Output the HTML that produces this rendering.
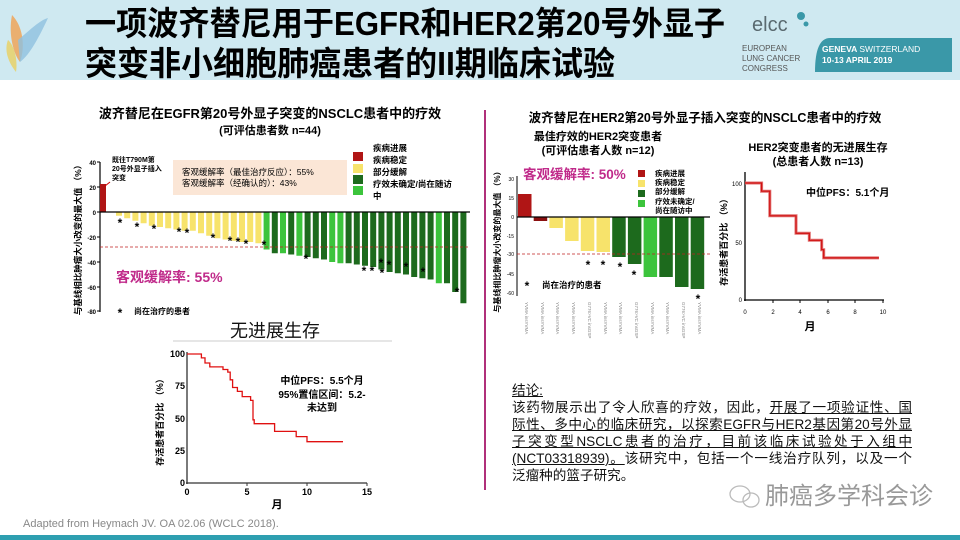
<!DOCTYPE html>
<html><head><meta charset="utf-8"><style>
body{margin:0;width:960px;height:540px;overflow:hidden;background:#fff;font-family:"Liberation Sans","Noto Sans CJK SC",sans-serif;position:relative}
.conc{position:absolute;left:512px;top:382px;width:400px;font-size:13.6px;line-height:17px;color:#111}
.conc div{text-align:justify;text-align-last:justify;white-space:nowrap}
.conc div.l{text-align-last:left}
.conc u{text-decoration:underline}
</style></head><body>
<svg width="960" height="540" viewBox="0 0 960 540" style="position:absolute;left:0;top:0" font-family="Liberation Sans, Noto Sans CJK SC, sans-serif">
<rect x="0" y="0" width="960" height="80" fill="#cfe9f1"/>
<path d="M12,15 C22,25 26,45 20,62 C14,55 8,35 12,15Z" fill="#f0a050" opacity=".8"/>
<path d="M18,40 C30,30 40,20 48,18 C40,35 30,55 20,62Z" fill="#8fc0e0" opacity=".8"/>
<path d="M8,40 C14,45 18,60 16,72 C8,62 4,50 8,40Z" fill="#e8d060" opacity=".8"/>
<text x="85" y="35" font-size="33" font-weight="bold" fill="#000" textLength="640" lengthAdjust="spacingAndGlyphs">一项波齐替尼用于EGFR和HER2第20号外显子</text>
<text x="85" y="75" font-size="33" font-weight="bold" fill="#000" textLength="530" lengthAdjust="spacingAndGlyphs">突变非小细胞肺癌患者的II期临床试验</text>
<text x="752" y="31" font-size="20" fill="#5a6a70">elcc</text>
<circle cx="801" cy="16" r="4" fill="#3a98a8"/><circle cx="806" cy="24" r="2.5" fill="#3a98a8"/>
<text x="742" y="51" font-size="8" fill="#555">EUROPEAN</text>
<text x="742" y="61" font-size="8" fill="#555">LUNG CANCER</text>
<text x="742" y="71" font-size="8" fill="#555">CONGRESS</text>
<path d="M830,38 H952 V72 H815 Q815,38 830,38Z" fill="#3a98a8"/>
<text x="822" y="52" font-size="8.5" fill="#fff" font-weight="bold">GENEVA <tspan font-weight="normal">SWITZERLAND</tspan></text>
<text x="822" y="63" font-size="8.5" fill="#fff" font-weight="bold">10-13 APRIL 2019</text>

<line x1="485" y1="110" x2="485" y2="490" stroke="#b0307a" stroke-width="2"/>

<text x="270" y="118" font-size="13" font-weight="bold" text-anchor="middle">波齐替尼在EGFR第20号外显子突变的NSCLC患者中的疗效</text>
<text x="270" y="134" font-size="11" font-weight="bold" text-anchor="middle">(可评估患者数 n=44)</text>
<text transform="translate(81,238) rotate(-90)" font-size="8.5" font-weight="bold" text-anchor="middle">与基线相比肿瘤大小改变的最大值 （%）</text>
<line x1="100" y1="162" x2="100" y2="312" stroke="#000" stroke-width="1.2"/>
<g font-size="6" text-anchor="end" font-weight="bold"><text x="96" y="165">40</text><text x="96" y="190">20</text><text x="96" y="215">0</text><text x="96" y="240">-20</text><text x="96" y="265">-40</text><text x="96" y="290">-60</text><text x="96" y="314">-80</text></g>
<g stroke="#000"><line x1="97" y1="162" x2="100" y2="162"/><line x1="97" y1="187" x2="100" y2="187"/><line x1="97" y1="212" x2="100" y2="212"/><line x1="97" y1="237" x2="100" y2="237"/><line x1="97" y1="262" x2="100" y2="262"/><line x1="97" y1="287" x2="100" y2="287"/><line x1="97" y1="311" x2="100" y2="311"/></g>
<rect x="100" y="184" width="6" height="28" fill="#b01515"/>
<text x="112" y="162" font-size="7" font-weight="bold">既往T790M第</text>
<text x="112" y="171" font-size="7" font-weight="bold">20号外显子插入</text>
<text x="112" y="180" font-size="7" font-weight="bold">突变</text>
<line x1="110" y1="182" x2="105" y2="186" stroke="#c00"/>
<g fill="#f7e36b">
<rect x="116" y="212" width="6" height="3.75"/><rect x="124.2" y="212" width="6" height="6.25"/><rect x="132.4" y="212" width="6" height="8.75"/><rect x="140.6" y="212" width="6" height="11.25"/><rect x="148.8" y="212" width="6" height="13.75"/><rect x="157" y="212" width="6" height="15"/><rect x="165.2" y="212" width="6" height="16.25"/><rect x="173.4" y="212" width="6" height="17.5"/><rect x="181.6" y="212" width="6" height="18.75"/><rect x="189.8" y="212" width="6" height="18.75"/><rect x="198" y="212" width="6" height="21.25"/><rect x="206.2" y="212" width="6" height="23.75"/><rect x="214.4" y="212" width="6" height="26.25"/><rect x="222.6" y="212" width="6" height="27.5"/><rect x="230.8" y="212" width="6" height="28.75"/><rect x="239" y="212" width="6" height="30"/><rect x="247.2" y="212" width="6" height="30"/><rect x="255.4" y="212" width="6" height="31.25"/>
</g>
<g fill="#1d6a1d">
<rect x="263.6" y="212" width="6" height="37.5" fill="#3cc43c"/><rect x="271.8" y="212" width="6" height="41.25"/><rect x="280" y="212" width="6" height="41.25" fill="#3cc43c"/><rect x="288.2" y="212" width="6" height="42.5"/><rect x="296.4" y="212" width="6" height="43.75" fill="#3cc43c"/><rect x="304.6" y="212" width="6" height="45"/><rect x="312.8" y="212" width="6" height="46.25"/><rect x="321" y="212" width="6" height="47.5"/><rect x="329.2" y="212" width="6" height="50" fill="#3cc43c"/><rect x="337.4" y="212" width="6" height="51.25" fill="#3cc43c"/><rect x="345.6" y="212" width="6" height="51.25"/><rect x="353.8" y="212" width="6" height="52.5"/><rect x="362" y="212" width="6" height="53.75"/><rect x="370.2" y="212" width="6" height="55"/><rect x="378.4" y="212" width="6" height="57.5"/><rect x="386.6" y="212" width="6" height="60"/><rect x="394.8" y="212" width="6" height="61.25"/><rect x="403" y="212" width="6" height="62.5"/><rect x="411.2" y="212" width="6" height="65"/><rect x="419.4" y="212" width="6" height="66.25"/><rect x="427.6" y="212" width="6" height="67.5"/><rect x="435.8" y="212" width="6" height="71.25" fill="#3cc43c"/><rect x="444" y="212" width="6" height="71.25"/><rect x="452.2" y="212" width="6" height="80"/><rect x="460.4" y="212" width="6" height="91.25"/>
</g>
<line x1="100" y1="212" x2="470" y2="212" stroke="#000" stroke-width="1.2"/>
<line x1="100" y1="247" x2="470" y2="247" stroke="#c02020" stroke-width="0.8" stroke-dasharray="3,2"/>
<g font-size="12" font-weight="bold" text-anchor="middle">
<text x="120" y="227">*</text><text x="137" y="231">*</text><text x="154" y="233">*</text><text x="179" y="236">*</text><text x="187" y="237">*</text><text x="213" y="242">*</text><text x="230" y="245">*</text><text x="238" y="246">*</text><text x="246" y="248">*</text><text x="264" y="249">*</text><text x="306" y="263">*</text><text x="364" y="275">*</text><text x="372" y="275">*</text><text x="381" y="267">*</text><text x="389" y="269">*</text><text x="382" y="277">*</text><text x="406" y="271">*</text><text x="423" y="276">*</text><text x="457" y="296">*</text>
<text x="120" y="317">*</text></g>
<rect x="173" y="160" width="174" height="35" fill="#fbe6d6"/>
<text x="182" y="175" font-size="8.5">客观缓解率（最佳治疗反应）：55%</text>
<text x="182" y="186" font-size="8.5">客观缓解率（经确认的）：43%</text>
<rect x="353" y="152" width="10" height="9" fill="#b01515"/><rect x="353" y="164" width="10" height="9" fill="#f7e36b"/><rect x="353" y="175" width="10" height="9" fill="#1d6a1d"/><rect x="353" y="186" width="10" height="9" fill="#3cc43c"/>
<g font-size="8.5" font-weight="bold"><text x="373" y="151">疾病进展</text><text x="373" y="163">疾病稳定</text><text x="373" y="175">部分缓解</text><text x="373" y="187">疗效未确定/尚在随访</text><text x="373" y="199">中</text></g>
<text x="116" y="282" font-size="14" font-weight="bold" fill="#c02a8a">客观缓解率: 55%</text>
<text x="134" y="314" font-size="8" font-weight="bold">尚在治疗的患者</text>

<text x="275" y="337" font-size="18" text-anchor="middle" fill="#111">无进展生存</text>
<line x1="173" y1="341" x2="392" y2="341" stroke="#ccc"/>
<text transform="translate(163,420) rotate(-90)" font-size="9" font-weight="bold" text-anchor="middle">存活患者百分比 （%）</text>
<line x1="187" y1="352" x2="187" y2="484" stroke="#333" stroke-width="1.3"/>
<line x1="186" y1="483" x2="367" y2="483" stroke="#333" stroke-width="1.3"/>
<g font-size="9" font-weight="bold" text-anchor="end"><text x="185" y="357">100</text><text x="185" y="389">75</text><text x="185" y="422">50</text><text x="185" y="454">25</text><text x="185" y="486">0</text></g>
<g font-size="9" font-weight="bold" text-anchor="middle"><text x="187" y="495">0</text><text x="247" y="495">5</text><text x="307" y="495">10</text><text x="367" y="495">15</text></g>
<g stroke="#333"><line x1="247" y1="483" x2="247" y2="486"/><line x1="307" y1="483" x2="307" y2="486"/><line x1="367" y1="483" x2="367" y2="486"/></g>
<text x="277" y="508" font-size="11" font-weight="bold" text-anchor="middle">月</text>
<path d="M187,354 H201.4 V357.9 H205 V363 H209.8 V366.9 H223 V369.5 H227.8 V372.1 H230.2 V379.8 H232.6 V387.5 H237.4 V391.4 H242.2 V396.6 H250.6 V400.4 H253 V404.3 V419.8 H254.2 V423.7 H274.6 V431.4 H296.2 V436.6 H307 V441.7 H343" fill="none" stroke="#e01010" stroke-width="1.3"/>
<g font-size="10" font-weight="bold" text-anchor="middle"><text x="322" y="384">中位PFS：5.5个月</text><text x="322" y="398">95%置信区间：5.2-</text><text x="322" y="411">未达到</text></g>

<text x="705" y="122" font-size="12.5" font-weight="bold" text-anchor="middle">波齐替尼在HER2第20号外显子插入突变的NSCLC患者中的疗效</text>
<text x="598" y="140" font-size="11" font-weight="bold" text-anchor="middle">最佳疗效的HER2突变患者</text>
<text x="598" y="154" font-size="11" font-weight="bold" text-anchor="middle">(可评估患者人数 n=12)</text>
<text transform="translate(500,240) rotate(-90)" font-size="8" font-weight="bold" text-anchor="middle">与基线相比肿瘤大小改变的最大值 （%）</text>
<line x1="517" y1="176" x2="517" y2="296" stroke="#000"/>
<g font-size="5" text-anchor="end"><text x="514" y="181">30</text><text x="514" y="200">15</text><text x="514" y="219">0</text><text x="514" y="238">-15</text><text x="514" y="256">-30</text><text x="514" y="276">-45</text><text x="514" y="295">-60</text></g>
<rect x="518" y="194" width="13.5" height="23" fill="#b01515"/>
<rect x="533.7" y="217" width="13.5" height="4" fill="#8a1010"/>
<g fill="#f7e36b"><rect x="549.4" y="217" width="13.5" height="11"/><rect x="565.1" y="217" width="13.5" height="24"/><rect x="580.8" y="217" width="13.5" height="34"/><rect x="596.5" y="217" width="13.5" height="35"/></g>
<g fill="#1d6a1d"><rect x="612.2" y="217" width="13.5" height="40"/><rect x="627.9" y="217" width="13.5" height="47"/><rect x="643.6" y="217" width="13.5" height="60" fill="#3cc43c"/><rect x="659.3" y="217" width="13.5" height="60"/><rect x="675" y="217" width="13.5" height="70"/><rect x="690.7" y="217" width="13.5" height="72"/></g>
<line x1="517" y1="217" x2="710" y2="217" stroke="#000" stroke-width="1.2"/>
<line x1="517" y1="254" x2="710" y2="254" stroke="#c02020" stroke-width="0.8" stroke-dasharray="3,2"/>
<g font-size="12" font-weight="bold" text-anchor="middle"><text x="527" y="290">*</text><text x="588" y="269">*</text><text x="603" y="269">*</text><text x="620" y="271">*</text><text x="634" y="279">*</text><text x="698" y="303">*</text></g>
<text x="542" y="288" font-size="8.5" font-weight="bold">尚在治疗的患者</text>
<text x="523" y="179" font-size="13.5" font-weight="bold" fill="#c02a8a">客观缓解率: 50%</text>
<rect x="638" y="170" width="7" height="7" fill="#b01515"/><rect x="638" y="180" width="7" height="7" fill="#f7e36b"/><rect x="638" y="190" width="7" height="7" fill="#1d6a1d"/><rect x="638" y="200" width="7" height="7" fill="#3cc43c"/>
<g font-size="7.5" font-weight="bold"><text x="655" y="176">疾病进展</text><text x="655" y="185">疾病稳定</text><text x="655" y="194">部分缓解</text><text x="655" y="204">疗效未确定/</text><text x="655" y="213">尚在随访中</text></g>
<g font-size="4.5" fill="#888"><text transform="translate(525,302) rotate(90)">YVMA insYVMA</text><text transform="translate(541,302) rotate(90)">YVMA insYVMA</text><text transform="translate(556,302) rotate(90)">YVMA insYVMA</text><text transform="translate(572,302) rotate(90)">YVMA insYVMA</text><text transform="translate(588,302) rotate(90)">G776&gt;VC insGSP</text><text transform="translate(604,302) rotate(90)">YVMA insYVMA</text><text transform="translate(619,302) rotate(90)">YVMA insYVMA</text><text transform="translate(635,302) rotate(90)">G776&gt;VC insGSP</text><text transform="translate(651,302) rotate(90)">YVMA insYVMA</text><text transform="translate(666,302) rotate(90)">YVMA insYVMA</text><text transform="translate(682,302) rotate(90)">G776&gt;VC insGSP</text><text transform="translate(698,302) rotate(90)">YVMA insYVMA</text></g>

<text x="818" y="151" font-size="11" font-weight="bold" text-anchor="middle">HER2突变患者的无进展生存</text>
<text x="818" y="165" font-size="11" font-weight="bold" text-anchor="middle">(总患者人数 n=13)</text>
<text transform="translate(727,240) rotate(-90)" font-size="9" font-weight="bold" text-anchor="middle">存活患者百分比 （%）</text>
<line x1="745" y1="172" x2="745" y2="301" stroke="#000" stroke-width="1.3"/>
<line x1="744" y1="300" x2="884" y2="300" stroke="#000" stroke-width="1.3"/>
<g font-size="6" text-anchor="end"><text x="742" y="186">100</text><text x="742" y="245">50</text><text x="742" y="302">0</text></g>
<g font-size="6" text-anchor="middle"><text x="745" y="314">0</text><text x="773" y="314">2</text><text x="800" y="314">4</text><text x="828" y="314">6</text><text x="855" y="314">8</text><text x="883" y="314">10</text></g>
<g stroke="#000"><line x1="773" y1="300" x2="773" y2="303"/><line x1="800" y1="300" x2="800" y2="303"/><line x1="828" y1="300" x2="828" y2="303"/><line x1="855" y1="300" x2="855" y2="303"/><line x1="883" y1="300" x2="883" y2="303"/></g>
<text x="810" y="330" font-size="11" font-weight="bold" text-anchor="middle">月</text>
<path d="M745,183 H761.6 V191.2 H769.8 V215.8 H796 V233.3 H809.3 V240.3 H821.7 V249.7 H823.7 V257.9 H878.9" fill="none" stroke="#e07070" stroke-width="3"/>
<path d="M745,183 H761.6 V191.2 H769.8 V215.8 H796 V233.3 H809.3 V240.3 H821.7 V249.7 H823.7 V257.9 H878.9" fill="none" stroke="#d01010" stroke-width="1.2"/>
<text x="806" y="196" font-size="10" font-weight="bold">中位PFS：5.1个月</text>

<g stroke="#bbb" fill="none" stroke-width="1.3"><ellipse cx="740" cy="494" rx="10" ry="8"/><ellipse cx="751" cy="500" rx="8" ry="7"/></g>
<text x="765" y="504" font-size="24" fill="#999">肺癌多学科会诊</text>
<text x="23" y="527" font-size="11" fill="#888">Adapted from Heymach JV. OA 02.06 (WCLC 2018).</text>
<rect x="0" y="535" width="960" height="5" fill="#2e9fb0"/>
</svg>
<div class="conc">
<div class="l"><u>结论:</u></div>
<div>该药物展示出了令人欣喜的疗效，因此，<u>开展了一项验证性、国</u></div>
<div><u>际性、多中心的临床研究，以探索EGFR与HER2基因第20号外显</u></div>
<div><u>子突变型NSCLC患者的治疗，目前该临床试验处于入组中</u></div>
<div><u>(NCT03318939)。</u>该研究中，包括一个一线治疗队列，以及一个</div>
<div class="l">泛瘤种的篮子研究。</div>
</div>
</body></html>
